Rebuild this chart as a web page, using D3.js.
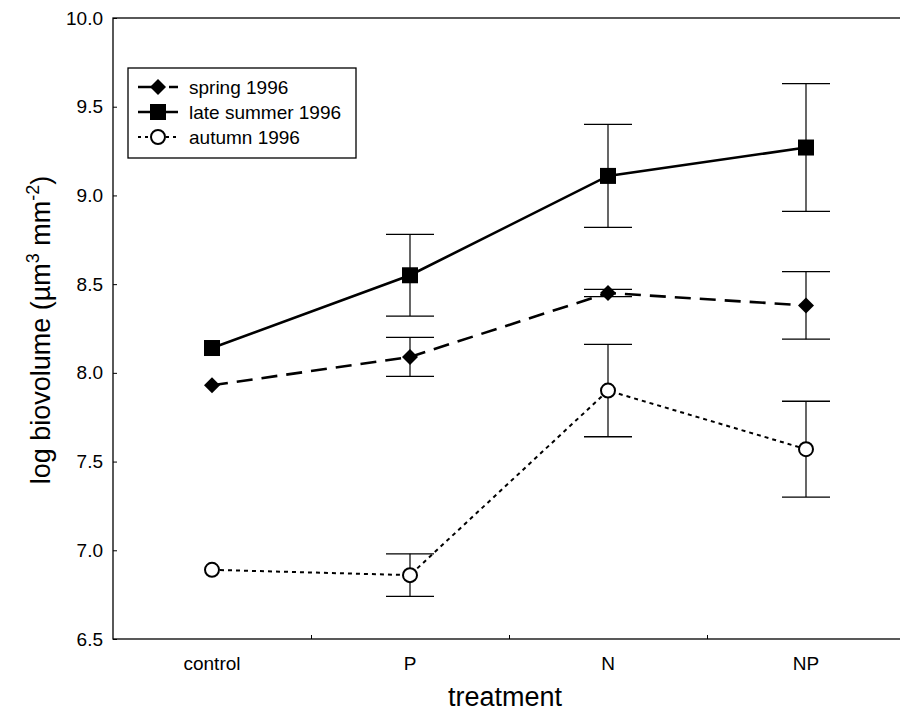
<!DOCTYPE html>
<html><head><meta charset="utf-8">
<script src="https://cdn.jsdelivr.net/npm/d3@7"></script>
<style>body{margin:0;background:#fff}svg{display:block}text{font-family:Arial,"Liberation Sans",Helvetica,sans-serif;fill:#000}</style>
</head><body><svg id="c" width="900" height="716"></svg>
<script>
const categories = ["control","P","N","NP"];
const seriesNames = ["spring 1996","late summer 1996","autumn 1996"];
const springMean = [7.93, 8.09, 8.45, 8.38];
const springHi   = [null, 8.20, 8.47, 8.57];
const springLo   = [null, 7.98, 8.43, 8.19];
const summerMean = [8.14, 8.55, 9.11, 9.27];
const summerHi   = [null, 8.78, 9.40, 9.63];
const summerLo   = [null, 8.32, 8.82, 8.91];
const autumnMean = [6.89, 6.86, 7.90, 7.57];
const autumnHi   = [null, 6.98, 8.16, 7.84];
const autumnLo   = [null, 6.74, 7.64, 7.30];
const yTicks = [6.5, 7.0, 7.5, 8.0, 8.5, 9.0, 9.5, 10.0];

const svg = d3.select("#c");
const L = 113, R = 905, T = 18, B = 639;
const x = d3.scaleLinear().domain([0, 4]).range([L, R]);
const y = d3.scaleLinear().domain([6.5, 10]).range([B, T]);
const cx = i => x(i + 0.5);

// frame
svg.append("rect").attr("x", L).attr("y", T).attr("width", R - L).attr("height", B - T)
  .attr("fill", "none").attr("stroke", "#000").attr("stroke-width", 1.3);

// y axis
const yAxis = d3.axisLeft(y).tickValues(yTicks).tickFormat(d3.format(".1f")).tickSize(-4).tickPadding(10);
const gy = svg.append("g").attr("transform", `translate(${L},0)`).call(yAxis);
gy.select(".domain").remove();
gy.selectAll("text").attr("font-size", 19).style("font-family", "Arial, 'Liberation Sans', sans-serif");
gy.selectAll("line").attr("stroke-width", 1);

// x axis (ticks at category boundaries, labels at centres)
const gx = svg.append("g").attr("transform", `translate(0,${B})`)
  .call(d3.axisBottom(x).tickValues([1, 2, 3]).tickSize(-4).tickFormat(""));
gx.select(".domain").remove();
svg.append("g").selectAll("text").data(categories).join("text")
  .attr("x", (d, i) => cx(i)).attr("y", B + 31).attr("text-anchor", "middle")
  .attr("font-size", 19).text(d => d);

// titles
svg.append("text").attr("x", (L + R) / 2 - 4).attr("y", 706).attr("text-anchor", "middle")
  .attr("font-size", 27).text("treatment");
const yt = svg.append("text").attr("transform", `translate(50,330) rotate(-90)`)
  .attr("text-anchor", "middle").attr("font-size", 27);
yt.append("tspan").text("log biovolume (µm");
yt.append("tspan").attr("font-size", 18).attr("dy", -11).text("3");
yt.append("tspan").attr("dy", 11).text(" mm");
yt.append("tspan").attr("font-size", 18).attr("dy", -11).text("-2");
yt.append("tspan").attr("dy", 11).text(")");

const series = [
  {mean: springMean, hi: springHi, lo: springLo, dash: "16,9", width: 2.6, shape: "diamond"},
  {mean: summerMean, hi: summerHi, lo: summerLo, dash: null, width: 2.6, shape: "square"},
  {mean: autumnMean, hi: autumnHi, lo: autumnLo, dash: "4,4", width: 2.0, shape: "circle"}
];

const line = d3.line().x((d, i) => cx(i)).y(d => y(d));

function marker(g, shape, px, py) {
  if (shape === "diamond") {
    g.append("path").attr("d", `M${px},${py - 8}L${px + 8},${py}L${px},${py + 8}L${px - 8},${py}Z`).attr("fill", "#000");
  } else if (shape === "square") {
    g.append("rect").attr("x", px - 8).attr("y", py - 8).attr("width", 16).attr("height", 16).attr("fill", "#000");
  } else {
    g.append("circle").attr("cx", px).attr("cy", py).attr("r", 7).attr("fill", "#fff").attr("stroke", "#000").attr("stroke-width", 2);
  }
}

// error bars
series.forEach(s => {
  const g = svg.append("g");
  s.mean.forEach((m, i) => {
    if (s.hi[i] == null) return;
    g.append("line").attr("x1", cx(i)).attr("x2", cx(i)).attr("y1", y(s.hi[i])).attr("y2", y(s.lo[i]))
      .attr("stroke", "#000").attr("stroke-width", 1.2);
    [s.hi[i], s.lo[i]].forEach(v => g.append("line").attr("x1", cx(i) - 24).attr("x2", cx(i) + 24)
      .attr("y1", y(v)).attr("y2", y(v)).attr("stroke", "#000").attr("stroke-width", 1.3));
  });
});

// lines + markers
series.forEach(s => {
  svg.append("path").attr("d", line(s.mean)).attr("fill", "none").attr("stroke", "#000")
    .attr("stroke-width", s.width).attr("stroke-dasharray", s.dash);
  const g = svg.append("g");
  s.mean.forEach((m, i) => marker(g, s.shape, cx(i), y(m)));
});

// legend
const lg = svg.append("g");
lg.append("rect").attr("x", 128).attr("y", 68).attr("width", 228).attr("height", 90)
  .attr("fill", "#fff").attr("stroke", "#000").attr("stroke-width", 1.3);
const rowY = [87, 112, 137];
series.forEach((s, k) => {
  lg.append("line").attr("x1", 138).attr("x2", 178).attr("y1", rowY[k]).attr("y2", rowY[k])
    .attr("stroke", "#000").attr("stroke-width", s.width)
    .attr("stroke-dasharray", k === 0 ? "18,5,3,5" : (k === 2 ? "3,4" : null));
  marker(lg, s.shape, 158, rowY[k]);
  lg.append("text").attr("x", 189).attr("y", rowY[k] + 7).attr("font-size", 19).text(seriesNames[k]);
});
</script></body></html>
